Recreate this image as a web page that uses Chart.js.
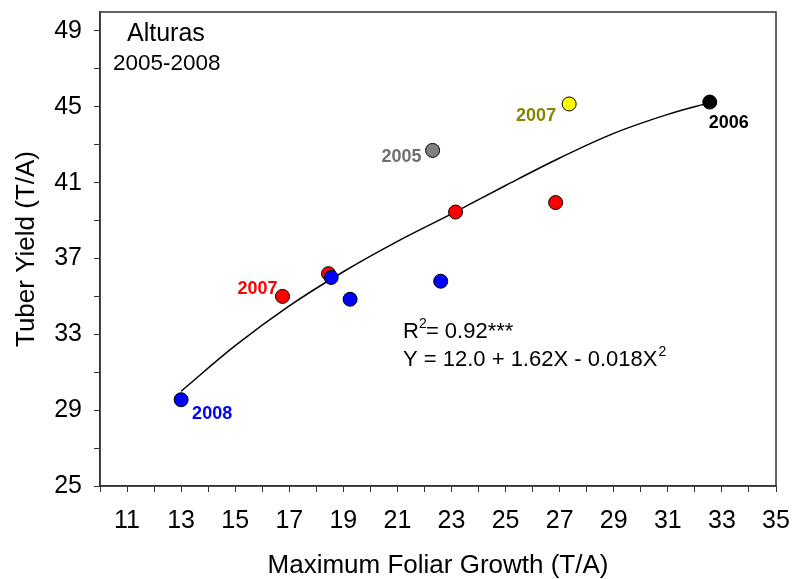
<!DOCTYPE html>
<html>
<head>
<meta charset="utf-8">
<script src="https://cdn.jsdelivr.net/npm/chart.js@4.4.1/dist/chart.umd.min.js"></script>
<style>
  html, body { margin: 0; padding: 0; background: #fff; }
</style>
</head>
<body>
<canvas id="chart" width="794" height="579"></canvas>
<script>
var FONT = "'Liberation Sans', Arial, Helvetica, sans-serif";

// axis ticks (labelled ones and the small ones between)
var xMajor = [11, 13, 15, 17, 19, 21, 23, 25, 27, 29, 31, 33, 35];
var xMinor = [10, 12, 14, 16, 18, 20, 22, 24, 26, 28, 30, 32, 34];
var yMajor = [25, 29, 33, 37, 41, 45, 49];
var yMinor = [27, 31, 35, 39, 43, 47];

// points, grouped by marker colour
var blueX = [13.0, 18.55, 19.25, 22.6];
var blueY = [29.55, 36.0, 34.85, 35.8];
var redX = [16.75, 18.45, 23.15, 26.85];
var redY = [35.0, 36.2, 39.45, 39.95];
var grayX = [22.3];
var grayY = [42.7];
var yellowX = [27.35];
var yellowY = [45.15];
var blackX = [32.55];
var blackY = [45.25];

// fitted curve
var fitX = [13, 15, 17, 19, 21, 23, 25, 27, 29, 31, 32.55];
var fitY = [30.0, 32.4, 34.5, 36.3, 37.9, 39.35, 40.85, 42.3, 43.6, 44.6, 45.22];

function pts(xs, ys) {
  return xs.map(function (x, i) { return { x: x, y: ys[i] }; });
}

function markers(xs, ys, color) {
  return {
    data: pts(xs, ys),
    backgroundColor: color,
    borderColor: "#000",
    borderWidth: 1,
    pointRadius: 7,
  };
}

function noPad(s) {
  s.paddingLeft = s.paddingRight = s.paddingTop = s.paddingBottom = 0;
}

// box around the plot
var frame = {
  id: "frame",
  beforeDatasetsDraw: function (chart) {
    var a = chart.chartArea, ctx = chart.ctx;
    ctx.save();
    ctx.strokeStyle = "#333";
    ctx.lineWidth = 1.5;
    ctx.strokeRect(a.left, a.top, a.right - a.left, a.bottom - a.top);
    ctx.restore();
  },
};

// year labels and the notes
var notes = {
  id: "notes",
  afterDraw: function (chart) {
    var ctx = chart.ctx;
    var xs = chart.scales.x, ys = chart.scales.y;
    function at(x, y) { return [xs.getPixelForValue(x), ys.getPixelForValue(y)]; }
    function txt(s, x, y, font, color, align) {
      ctx.font = font;
      ctx.fillStyle = color;
      ctx.textAlign = align || "left";
      ctx.textBaseline = "middle";
      ctx.fillText(s, x, y);
    }
    ctx.save();
    var bold = "bold 18px " + FONT;
    var p;
    p = at(grayX[0], grayY[0]);
    txt("2005", p[0] - 11, p[1] + 7, bold, "#707070", "right");
    p = at(yellowX[0], yellowY[0]);
    txt("2007", p[0] - 13, p[1] + 12, bold, "#858500", "right");
    p = at(blackX[0], blackY[0]);
    txt("2006", p[0] - 1, p[1] + 21, bold, "#000", "left");
    p = at(redX[0], redY[0]);
    txt("2007", p[0] - 5, p[1] - 7, bold, "#ff0000", "right");
    p = at(blueX[0], blueY[0]);
    txt("2008", p[0] + 11, p[1] + 14, bold, "#0000ff", "left");

    txt("Alturas", 127, 34, "25px " + FONT, "#000");
    txt("2005-2008", 113, 64, "22.5px " + FONT, "#000");

    // R^2 line
    var f = "22px " + FONT, fs = "14px " + FONT;
    var x0 = 403, y1 = 332, y2 = 360;
    txt("R", x0, y1, f, "#000");
    ctx.font = f;
    var w = ctx.measureText("R").width;
    txt("2", x0 + w, y1 - 8, fs, "#000");
    txt("= 0.92***", x0 + w + 7, y1, f, "#000");
    // equation line
    var eq = "Y = 12.0 + 1.62X - 0.018X";
    txt(eq, x0, y2, f, "#000");
    ctx.font = f;
    w = ctx.measureText(eq).width;
    txt("2", x0 + w + 1, y2 - 8, fs, "#000");
    ctx.restore();
  },
};

new Chart(document.getElementById("chart"), {
  type: "scatter",
  data: {
    datasets: [
      markers(blueX, blueY, "#0000ff"),
      markers(redX, redY, "#ff0000"),
      markers(grayX, grayY, "#808080"),
      markers(yellowX, yellowY, "#ffff00"),
      markers(blackX, blackY, "#000000"),
      {
        data: pts(fitX, fitY),
        showLine: true,
        borderColor: "#000",
        borderWidth: 1.5,
        pointRadius: 0,
        tension: 0.35,
      },
    ],
  },
  options: {
    responsive: false,
    animation: false,
    layout: { padding: { top: 12, right: 18, left: 0, bottom: 0 } },
    plugins: {
      legend: { display: false },
      tooltip: { enabled: false },
    },
    scales: {
      x: {
        type: "linear",
        min: 10,
        max: 35,
        afterFit: function (s) { s.height = 93; noPad(s); },
        afterBuildTicks: function (s) {
          s.ticks = xMajor.concat(xMinor).sort(function (a, b) { return a - b; })
            .map(function (v) { return { value: v }; });
        },
        ticks: {
          autoSkip: false,
          maxRotation: 0,
          padding: 14,
          color: "#000",
          font: { family: FONT, size: 25 },
          callback: function (v) { return xMajor.indexOf(v) >= 0 ? String(v) : ""; },
        },
        grid: { drawOnChartArea: false, tickLength: 6, color: "#333" },
        border: { color: "#333", width: 1.5 },
        title: {
          display: true,
          text: "Maximum Foliar Growth (T/A)",
          color: "#000",
          font: { family: FONT, size: 26, lineHeight: 1 },
          padding: { top: 0, bottom: 0 },
        },
      },
      y: {
        min: 25,
        max: 50,
        afterFit: function (s) { s.width = 100; noPad(s); },
        afterBuildTicks: function (s) {
          s.ticks = yMajor.concat(yMinor).sort(function (a, b) { return a - b; })
            .map(function (v) { return { value: v }; });
        },
        ticks: {
          autoSkip: false,
          padding: 12,
          color: "#000",
          font: { family: FONT, size: 25 },
          callback: function (v) { return yMajor.indexOf(v) >= 0 ? String(v) : ""; },
        },
        grid: { drawOnChartArea: false, tickLength: 6, color: "#333" },
        border: { color: "#333", width: 1.5 },
        title: {
          display: true,
          text: "Tuber Yield (T/A)",
          color: "#000",
          font: { family: FONT, size: 26, lineHeight: 1 },
          padding: { top: 14, bottom: 0 },
        },
      },
    },
  },
  plugins: [frame, notes],
});
</script>
</body>
</html>
